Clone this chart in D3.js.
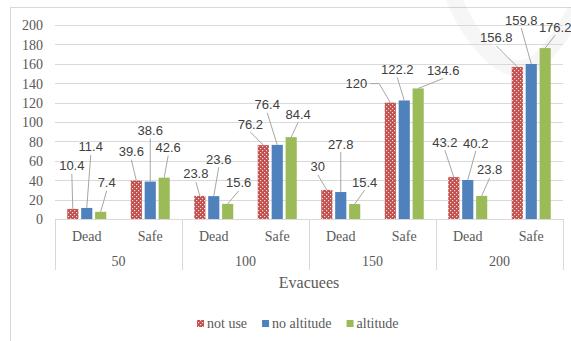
<!DOCTYPE html>
<html><head><meta charset="utf-8">
<script src="https://cdn.jsdelivr.net/npm/d3@7/dist/d3.min.js"></script>
<style>html,body{margin:0;padding:0;background:#fff;}svg{display:block;}
.serif{font-family:"Liberation Serif","Times New Roman",Times,serif;}
</style>
</head><body>
<svg id="chart" width="571" height="341"></svg>
<script>
const groups = ["50", "100", "150", "200"];
const subcats = ["Dead", "Safe"];
const seriesNames = ["not use", "no altitude", "altitude"];
const notUse = [10.4, 39.6, 23.8, 76.2, 30, 120, 43.2, 156.8];
const noAltitude = [11.4, 38.6, 23.6, 76.4, 27.8, 122.2, 40.2, 159.8];
const altitude = [7.4, 42.6, 15.6, 84.4, 15.4, 134.6, 23.8, 176.2];
const yTicks = [0, 20, 40, 60, 80, 100, 120, 140, 160, 180, 200];
const axisTitle = "Evacuees";
// label offsets (px) from bar top centre, as placed in the original
const labelOffsets = [
  [[-1,-43],[4,-61],[6,-29]], [[-5,-29],[0,-51],[4,-30]],
  [[-4,-22],[5,-37],[11,-21]], [[-13,-21],[-10,-40],[7,-23]],
  [[-9,-23],[0,-48],[10,-22]], [[-34,-19],[-7,-31],[25,-18]],
  [[-9,-35],[8,-37],[8,-26]], [[-21,-29],[-10,-44],[10,-21]]
];

(function () {
const colors = ["#c0504d", "#4f81bd", "#9bbb59"];
const seriesValues = [notUse, noAltitude, altitude];
const leaves = [];
groups.forEach(g => subcats.forEach(s => leaves.push(g + "|" + s)));

const svg = d3.select("#chart");
const defs = svg.append("defs");
const pat = defs.append("pattern").attr("id", "dots").attr("patternUnits", "userSpaceOnUse")
  .attr("width", 4).attr("height", 4);
pat.append("rect").attr("width", 4).attr("height", 4).attr("fill", colors[0]);
pat.append("rect").attr("x", 0).attr("y", 0).attr("width", 1.2).attr("height", 1.2).attr("fill", "#f6dede");
pat.append("rect").attr("x", 2).attr("y", 2).attr("width", 1.2).attr("height", 1.2).attr("fill", "#f6dede");
const fills = ["url(#dots)", colors[1], colors[2]];

// outer frame
svg.append("rect").attr("x", 10.5).attr("y", 7.5).attr("width", 600).attr("height", 400)
  .attr("fill", "none").attr("stroke", "#d9d9d9");

const pL = 55, pR = 563, pT = 25, pB = 219;
const y = d3.scaleLinear().domain([0, 200]).range([pB, pT]);
const x0 = d3.scaleBand().domain(leaves).range([pL, pR]).padding(0);
const xg = d3.scaleBand().domain(groups).range([pL, pR]).padding(0);
const x1 = d3.scaleBand().domain(seriesNames)
  .range([x0.bandwidth() * 0.193, x0.bandwidth() * 0.807]).paddingInner(0.2);

// watermark
svg.append("path").attr("d", "M452,-6 Q470,40 500,62 Q520,76 540,60 Q560,40 575,10")
  .attr("fill", "none").attr("stroke", "#000").attr("stroke-opacity", 0.035).attr("stroke-width", 16);

// gridlines
svg.append("g").selectAll("line").data(yTicks.filter(t => t > 0)).join("line")
  .attr("x1", pL).attr("x2", pR).attr("y1", d => Math.round(y(d)) + 0.5).attr("y2", d => Math.round(y(d)) + 0.5)
  .attr("stroke", "#d9d9d9").attr("stroke-width", 1);

// y axis labels
const yAxis = d3.axisLeft(y).tickValues(yTicks).tickSize(0).tickPadding(0);
const yg = svg.append("g").attr("transform", "translate(43,0)").call(yAxis);
yg.select(".domain").remove();
yg.attr("font-family", null).attr("font-size", null);
yg.selectAll("text").attr("class", "serif").attr("font-size", 14)
  .attr("fill", "#595959").attr("dy", "0.35em");

// bars
seriesValues.forEach((vals, si) => {
  svg.append("g").selectAll("rect").data(vals).join("rect")
    .attr("x", (d, i) => x0(leaves[i]) + x1(seriesNames[si]))
    .attr("width", x1.bandwidth())
    .attr("y", d => y(d)).attr("height", d => y(0) - y(d))
    .attr("fill", fills[si]);
});

// base axis
svg.append("line").attr("x1", pL).attr("x2", pR).attr("y1", pB + 0.5).attr("y2", pB + 0.5)
  .attr("stroke", "#d9d9d9");
svg.append("g").selectAll("line").data(groups.concat(["end"])).join("line")
  .attr("x1", (d, i) => Math.round(pL + i * xg.step()) + 0.5)
  .attr("x2", (d, i) => Math.round(pL + i * xg.step()) + 0.5)
  .attr("y1", pB).attr("y2", 270).attr("stroke", "#d9d9d9");

svg.append("g").selectAll("text").data(leaves).join("text")
  .attr("x", d => x0(d) + x0.bandwidth() / 2).attr("y", 236).attr("dy", "0.35em")
  .attr("text-anchor", "middle").attr("class", "serif").attr("font-size", 14).attr("fill", "#595959")
  .text(d => d.split("|")[1]);
svg.append("g").selectAll("text").data(groups).join("text")
  .attr("x", d => xg(d) + xg.bandwidth() / 2).attr("y", 261).attr("dy", "0.35em")
  .attr("text-anchor", "middle").attr("class", "serif").attr("font-size", 14).attr("fill", "#595959")
  .text(d => d);
svg.append("text").attr("x", (pL + pR) / 2).attr("y", 282).attr("dy", "0.35em")
  .attr("text-anchor", "middle").attr("class", "serif").attr("font-size", 16).attr("fill", "#595959")
  .text(axisTitle);

// data labels with leader lines
const lblG = svg.append("g");
const leadG = svg.append("g");
seriesValues.forEach((vals, si) => {
  vals.forEach((v, i) => {
    const bx = x0(leaves[i]) + x1(seriesNames[si]) + x1.bandwidth() / 2;
    const by = y(v);
    const [dx, dy] = labelOffsets[i][si];
    const lx = bx + dx, ly = by + dy;
    const t = lblG.append("text").attr("x", lx).attr("y", ly).attr("dy", "0.35em")
      .attr("text-anchor", "middle").attr("font-family", "'Liberation Sans', Arial, sans-serif")
      .attr("font-size", 13).attr("fill", "#404040").text(v);
    const w = t.node().getComputedTextLength();
    let pts;
    if (bx > lx + w / 2 + 12) {
      pts = [[lx + w / 2 + 3, ly], [lx + w / 2 + 12, ly], [bx, by]];
    } else {
      pts = [[lx, ly + 8], [bx, by]];
    }
    const dist = Math.hypot(pts[pts.length - 2][0] - bx, pts[pts.length - 2][1] - by);
    if (dist > 6) {
      leadG.append("path").attr("d", d3.line()(pts)).attr("fill", "none")
        .attr("stroke", "#a6a6a6").attr("stroke-width", 1);
    }
  });
});

// legend
const leg = svg.append("g");
let lx = 197;
seriesNames.forEach((n, i) => {
  leg.append("rect").attr("x", lx).attr("y", 320).attr("width", 7).attr("height", 7).attr("fill", fills[i]);
  const t = leg.append("text").attr("x", lx + 10).attr("y", 323).attr("dy", "0.35em")
    .attr("class", "serif").attr("font-size", 14).attr("fill", "#595959").text(n);
  lx += 10 + t.node().getComputedTextLength() + 15;
});
})();
</script>
</body></html>
